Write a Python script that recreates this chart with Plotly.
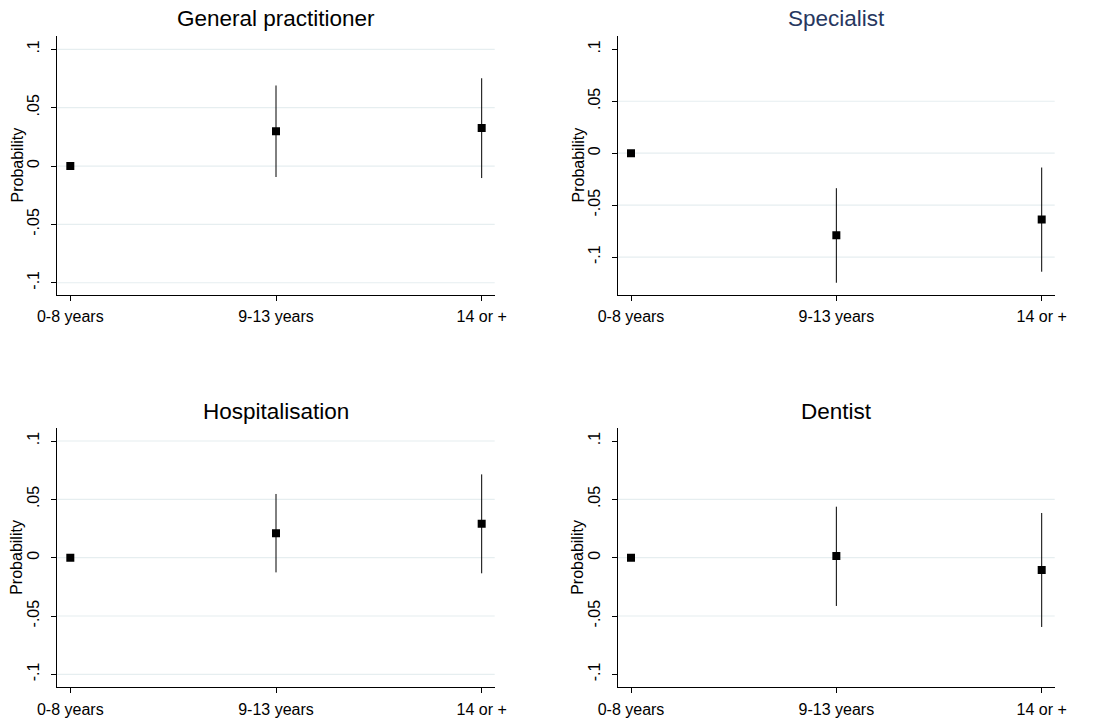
import plotly.graph_objects as go

categories = ["0-8 years", "9-13 years", "14 or +"]
titles = ["General practitioner", "Specialist", "Hospitalisation", "Dentist"]
ylabel = "Probability"

gp_est = [0.0, 0.0298, 0.0326]
gp_lo = [0.0, -0.0094, -0.0103]
gp_hi = [0.0, 0.0690, 0.0752]

sp_est = [0.0, -0.0791, -0.0638]
sp_lo = [0.0, -0.1247, -0.1141]
sp_hi = [0.0, -0.0337, -0.0138]

ho_est = [0.0, 0.0209, 0.0291]
ho_lo = [0.0, -0.0126, -0.0134]
ho_hi = [0.0, 0.0546, 0.0714]

de_est = [0.0, 0.0014, -0.0106]
de_lo = [0.0, -0.0414, -0.0594]
de_hi = [0.0, 0.0437, 0.0383]

ytick_vals = [-0.1, -0.05, 0, 0.05, 0.1]
ytick_text = ["-.1", "-.05", "0", ".05", ".1"]

panels = [
    (gp_est, gp_lo, gp_hi),
    (sp_est, sp_lo, sp_hi),
    (ho_est, ho_lo, ho_hi),
    (de_est, de_lo, de_hi),
]
yranges = [[-0.1105, 0.1114], [-0.1365, 0.1128], [-0.1111, 0.1109], [-0.1111, 0.1109]]
grids = [
    [-0.1, -0.05, 0, 0.05, 0.1],
    [-0.1, -0.05, 0, 0.05],
    [-0.1, -0.05, 0, 0.05, 0.1],
    [-0.05, 0, 0.05],
]
title_colors = ["black", "#27375f", "black", "black"]

W, H = 1104, 722
xdoms = [[57.3 / W, 494.7 / W], [618 / W, 1054.7 / W]]
ydoms = [[1 - 295 / H, 1 - 36 / H], [1 - 687.3 / H, 1 - 428.3 / H]]
title_y = [1 - 19 / H, 1 - 411.5 / H]
ylabel_x = [17 / W, 578 / W]

FONT = "Liberation Sans, Arial, Helvetica, sans-serif"

fig = go.Figure()
layout = dict(
    width=W, height=H,
    margin=dict(l=0, r=0, t=0, b=0),
    paper_bgcolor="white", plot_bgcolor="white",
    showlegend=False,
    font=dict(family=FONT, color="black"),
)
shapes = []
annotations = []

xpos = list(range(len(categories)))

for i, (est, lo, hi) in enumerate(panels):
    row, col = divmod(i, 2)
    n = i + 1
    xa = "x" if n == 1 else f"x{n}"
    ya = "y" if n == 1 else f"y{n}"
    err_plus = [h - e for h, e in zip(hi, est)]
    err_minus = [e - l for e, l in zip(est, lo)]
    fig.add_trace(go.Scatter(
        x=xpos, y=est, mode="markers",
        marker=dict(symbol="square", size=8, color="black"),
        error_y=dict(type="data", array=err_plus, arrayminus=err_minus,
                     visible=True, color="black", thickness=1, width=0),
        xaxis=xa, yaxis=ya,
    ))
    layout[f"xaxis{'' if n == 1 else n}"] = dict(
        domain=xdoms[col], anchor=ya, range=[-0.0633, 2.0633],
        tickvals=xpos, ticktext=categories, showgrid=False, zeroline=False,
        showline=True, linecolor="black", linewidth=1,
        ticks="outside", ticklen=5, tickcolor="black", tickwidth=1,
        tickfont=dict(size=16, family=FONT, color="black"),
        ticklabelstandoff=2,
        automargin=False, fixedrange=True,
    )
    layout[f"yaxis{'' if n == 1 else n}"] = dict(
        domain=ydoms[row], anchor=xa, range=yranges[i],
        tickvals=ytick_vals, ticktext=ytick_text, tickangle=-90,
        showgrid=False, zeroline=False,
        showline=True, linecolor="black", linewidth=1,
        ticks="outside", ticklen=5, tickcolor="black", tickwidth=1,
        tickfont=dict(size=16, family=FONT, color="black"),
        ticklabelstandoff=6,
        automargin=False, fixedrange=True,
    )
    for g in grids[i]:
        shapes.append(dict(type="line", xref=f"{xa} domain", yref=ya,
                           x0=0, x1=1, y0=g, y1=g,
                           line=dict(color="#e6eef0", width=1.2), layer="below"))
    annotations.append(dict(
        text=titles[i], xref="paper", yref="paper",
        x=(xdoms[col][0] + xdoms[col][1]) / 2, y=title_y[row],
        xanchor="center", yanchor="middle", showarrow=False,
        font=dict(size=22.5, family=FONT, color=title_colors[i]),
    ))
    annotations.append(dict(
        text=ylabel, xref="paper", yref="paper",
        x=ylabel_x[col], y=(ydoms[row][0] + ydoms[row][1]) / 2,
        xanchor="center", yanchor="middle", showarrow=False, textangle=-90,
        font=dict(size=16, family=FONT, color="black"),
    ))

layout["shapes"] = shapes
layout["annotations"] = annotations
fig.update_layout(**layout)
fig.write_html("out.html")
